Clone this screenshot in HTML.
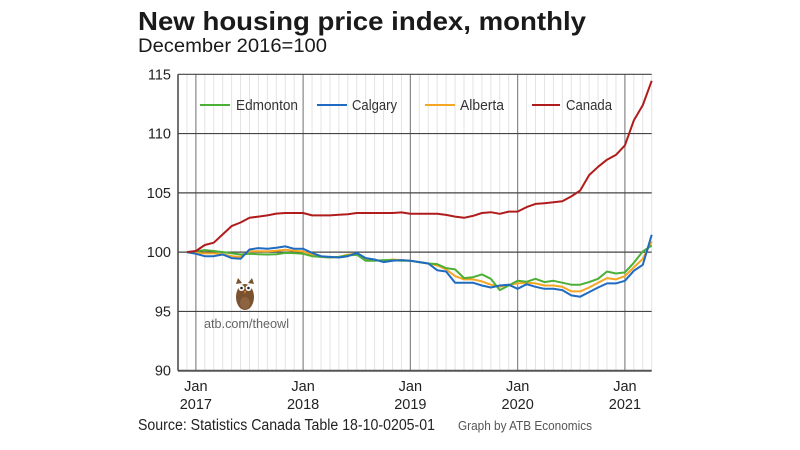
<!DOCTYPE html>
<html><head><meta charset="utf-8"><style>
body{margin:0;background:#fff;}
svg{display:block;font-family:"Liberation Sans","DejaVu Sans",sans-serif;}
</style></head><body>
<svg id="chart" width="800" height="450" viewBox="0 0 800 450" xmlns="http://www.w3.org/2000/svg">
<text x="138" y="30" font-size="26" font-weight="bold" fill="#1a1a1a" textLength="448" lengthAdjust="spacingAndGlyphs">New housing price index, monthly</text>
<text x="138" y="52" font-size="19" fill="#1a1a1a" textLength="189" lengthAdjust="spacingAndGlyphs">December 2016=100</text>
<g id="grid"></g>
<g id="series"></g>
<g id="axes"></g>
<g font-size="14.5" fill="#333">
 <g><line x1="200" y1="105" x2="230" y2="105" stroke="#4caf36" stroke-width="2"/><text x="236" y="110" textLength="62" lengthAdjust="spacingAndGlyphs">Edmonton</text></g>
 <g><line x1="317" y1="105" x2="347" y2="105" stroke="#1f6bc1" stroke-width="2"/><text x="352" y="110" textLength="45" lengthAdjust="spacingAndGlyphs">Calgary</text></g>
 <g><line x1="425" y1="105" x2="455" y2="105" stroke="#f5a623" stroke-width="2"/><text x="460" y="110" textLength="44" lengthAdjust="spacingAndGlyphs">Alberta</text></g>
 <g><line x1="532" y1="105" x2="560" y2="105" stroke="#b01c1c" stroke-width="2"/><text x="566" y="110" textLength="46" lengthAdjust="spacingAndGlyphs">Canada</text></g>
</g>
<g>
 <ellipse cx="245" cy="297" rx="9" ry="13" fill="#7a5230"/>
 <path d="M236 284 L238 278 L242 283 Z M254 284 L252 278 L248 283 Z" fill="#7a5230"/>
 <circle cx="241.5" cy="288" r="3" fill="#fff"/><circle cx="248.5" cy="288" r="3" fill="#fff"/>
 <circle cx="241.5" cy="288" r="1.3" fill="#222"/><circle cx="248.5" cy="288" r="1.3" fill="#222"/>
 <path d="M244 291 L246 291 L245 294 Z" fill="#f28a1e"/>
 <ellipse cx="245" cy="303" rx="5" ry="6" fill="#8d6340"/>
</g>
<text x="204" y="328" font-size="13" fill="#666" textLength="85" lengthAdjust="spacingAndGlyphs">atb.com/theowl</text>
<text x="138" y="430" font-size="15.5" fill="#222" textLength="297" lengthAdjust="spacingAndGlyphs">Source: Statistics Canada Table 18-10-0205-01</text>
<text x="458" y="430" font-size="12.5" fill="#555" textLength="134" lengthAdjust="spacingAndGlyphs">Graph by ATB Economics</text>
</svg>
<script>
const yTicks=[90,95,100,105,110,115];
const xTickLabels=[["Jan","2017"],["Jan","2018"],["Jan","2019"],["Jan","2020"],["Jan","2021"]];
const xTickMonths=[0,12,24,36,48];
const startMonth=-1;
const edmonton=[100,100.08,100.17,100.1,100,99.9,99.8,99.86,99.83,99.8,99.83,99.94,99.92,99.86,99.66,99.6,99.55,99.6,99.72,99.78,99.27,99.27,99.33,99.33,99.27,
99.27,99.16,99.04,98.99,98.65,98.54,97.81,97.89,98.12,97.75,96.8,97.19,97.58,97.5,97.75,97.47,97.58,97.42,97.25,97.25,97.47,97.75,98.37,98.2,98.29,99.1,100.06,100.56];
const calgary=[100,99.86,99.66,99.66,99.8,99.5,99.44,100.22,100.34,100.28,100.37,100.48,100.28,100.28,99.94,99.66,99.6,99.55,99.66,99.94,99.5,99.38,99.16,99.27,99.33,
99.27,99.16,99.04,98.48,98.37,97.42,97.42,97.42,97.19,97.02,97.19,97.25,96.91,97.3,97.08,96.91,96.91,96.8,96.35,96.24,96.63,97.02,97.36,97.36,97.58,98.43,98.93,101.46];
const alberta=[100,99.94,99.89,99.89,99.83,99.66,99.6,100.06,100.08,100.06,100.11,100.2,100.11,100.06,99.78,99.6,99.55,99.6,99.78,99.89,99.38,99.33,99.27,99.38,99.33,
99.27,99.16,99.04,98.88,98.54,97.98,97.7,97.7,97.53,97.25,97.08,97.25,97.36,97.42,97.36,97.19,97.19,97.08,96.69,96.69,97.02,97.42,97.81,97.7,97.98,98.71,99.44,100.9];
const canada=[100,100.1,100.6,100.8,101.5,102.2,102.5,102.9,103.0,103.1,103.25,103.3,103.3,103.3,103.1,103.1,103.1,103.15,103.2,103.3,103.3,103.3,103.3,103.3,103.35,
103.23,103.23,103.23,103.23,103.14,103.0,102.9,103.06,103.3,103.37,103.23,103.42,103.42,103.8,104.07,104.13,104.2,104.3,104.7,105.2,106.5,107.2,107.8,108.2,109.0,111.1,112.4,114.45];

const NS="http://www.w3.org/2000/svg";
const X0=178,X1=651.7,Y0=74.3,Y1=370.7;
const mMin=-2,mMax=51,vMin=90,vMax=115;
function x(m){return X0+(m-mMin)/(mMax-mMin)*(X1-X0);}
function y(v){return Y1-(v-vMin)/(vMax-vMin)*(Y1-Y0);}
function el(tag,attrs,parent){const e=document.createElementNS(NS,tag);for(const k in attrs)e.setAttribute(k,attrs[k]);parent.appendChild(e);return e;}
const grid=document.getElementById('grid'),axes=document.getElementById('axes'),series=document.getElementById('series');
for(let m=mMin+1;m<=mMax;m++){
  const isJan=xTickMonths.includes(m);
  const l=el('line',{x1:x(m),x2:x(m),y1:Y0,y2:Y1,stroke:isJan?'#888':'#e3e3e3','stroke-width':isJan?1.2:1},grid);
  
  
}
yTicks.forEach(v=>{
  const l=el('line',{x1:X0,x2:X1,y1:y(v),y2:y(v),stroke:v===90?'#555':'#444','stroke-width':v===90?2:1.2},grid);
  
  
  const t=el('text',{x:171,y:y(v)+5,'text-anchor':'end','font-size':14.5,fill:'#222'},axes);
  t.textContent=v;
  
  
});
const la=el('line',{x1:X0,x2:X0,y1:Y0,y2:Y1,stroke:'#444','stroke-width':1.5},axes);


xTickMonths.forEach((m,i)=>{
  const t=el('text',{x:x(m),y:391,'text-anchor':'middle','font-size':14.5,fill:'#222'},axes);
  t.textContent=xTickLabels[i][0];
  
  
  const t2=el('text',{x:x(m),y:409,'text-anchor':'middle','font-size':14.5,fill:'#222'},axes);
  t2.textContent=xTickLabels[i][1];
  
  
});
function line(data,color,name){
  const pts=data.map((v,i)=>x(startMonth+i).toFixed(1)+','+y(v).toFixed(1)).join(' ');
  const p=el('polyline',{points:pts,fill:'none',stroke:color,'stroke-width':2,'stroke-linejoin':'round'},series);
  
  
}
line(alberta,'#f5a623','alberta-line');
line(edmonton,'#4caf36','edmonton-line');
line(calgary,'#1f6bc1','calgary-line');
line(canada,'#b01c1c','canada-line');
</script>
</body></html>
